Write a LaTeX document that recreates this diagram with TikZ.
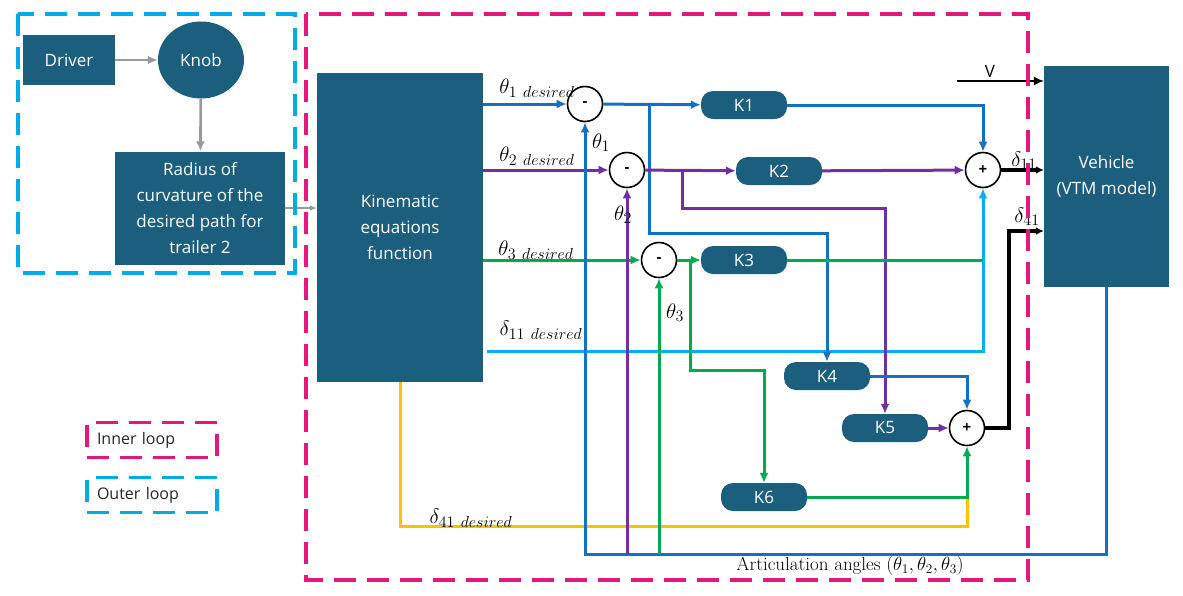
\RequirePackage{fix-cm}
\documentclass[tikz,border=0pt]{standalone}
\usepackage{fontspec}
\setsansfont{Open Sans}
\usetikzlibrary{arrows.meta,positioning,shapes.geometric}
\DeclareMathSizes{21}{21}{16}{12}
\definecolor{boxblue}{RGB}{27,94,126}
\definecolor{lnblue}{RGB}{20,112,192}
\definecolor{lnpurple}{RGB}{112,48,160}
\definecolor{lngreen}{RGB}{0,170,80}
\definecolor{lncyan}{RGB}{0,176,240}
\definecolor{lnyellow}{RGB}{255,192,0}
\definecolor{inpink}{RGB}{228,24,124}
\definecolor{outcyan}{RGB}{0,170,230}

\begin{document}
\begin{tikzpicture}[x=1pt,y=-1pt,>={Latex[length=10pt,width=9pt]},
 b/.style={fill=boxblue,text=white,align=center,inner sep=2pt,font=\sffamily\fontsize{17}{26}\selectfont},
 k/.style={b,rounded corners=12pt,minimum width=86pt,minimum height=28pt},
 s/.style={circle,draw,line width=1.6pt,fill=white,minimum size=35pt,inner sep=0pt,font=\sffamily\bfseries\fontsize{15}{15}\selectfont},
 a/.style={->,line width=3pt},
 g/.style={->,line width=2.6pt,draw=gray!80},
 lb/.style={font=\fontsize{21}{24}\selectfont},
 fr/.style={line width=3.2pt,dash pattern=on 22pt off 11pt},
 lg/.style={fr,minimum width=130pt,minimum height=35pt,text width=110pt,align=left,inner xsep=10pt,font=\sffamily\fontsize{16}{18}\selectfont,text=black!85}]
\useasboundingbox (0,0) rectangle (1183,595);
% outer loop blocks
\node[b,minimum width=92pt,minimum height=50pt] (drv) at (69,60) {Driver};
\node[b,ellipse,minimum width=86pt,minimum height=77pt] (knob) at (201,60) {Knob};
\node[b,minimum width=170pt,minimum height=113pt] (rad) at (200,208) {Radius of\\curvature of the\\desired path for\\trailer 2};
\draw[g] (drv) -- (knob);
\draw[g] (knob) -- (rad);
% main blocks
\node[b,minimum width=166pt,minimum height=309pt] (kin) at (400,227.5) {Kinematic\\equations\\function};
\node[b,minimum width=125pt,minimum height=221pt] (veh) at (1106.5,176.5) {Vehicle\\(VTM model)};
\draw[g,line width=1.5pt,>={Latex[length=7pt,width=6pt]}] (rad) -- (kin.west|-rad);
% sums
\node[s] (s1) at (585,104) {-};
\node[s] (s2) at (627,170) {-};
\node[s] (s3) at (659,260) {-};
\node[s] (p1) at (983,170) {+};
\node[s] (p2) at (967,428) {+};
% gains
\node[k] (k1) at (744,105) {K1};
\node[k] (k2) at (779,171) {K2};
\node[k] (k3) at (744,260) {K3};
\node[k] (k4) at (827,376) {K4};
\node[k] (k5) at (885,428) {K5};
\node[k] (k6) at (764,497) {K6};
% corner points
\coordinate (d11) at (487,351);
\coordinate (b1) at (649,104); \coordinate (j1) at (649,233);
\coordinate (b2) at (682,170); \coordinate (j2) at (682,208);
\coordinate (b3) at (690,260); \coordinate (j3) at (690,370);
\coordinate (j4) at (967,526);
\coordinate (j5) at (1009,231);
\coordinate (fb) at (585,554);
\coordinate (v0) at (957,81);
% desired signals
\draw[a,lnblue] (kin.east|-s1) -- (s1);
\draw[a,lnpurple] (kin.east|-s2) -- (s2);
\draw[a,lngreen] (kin.east|-s3) -- (s3);
\draw[a,lncyan] (d11) -| (p1);
\draw[line width=3pt,lnyellow] (kin.south) |- (j4) -- (p2|-k6);
% errors to gains
\draw[a,lnblue] (s1) -- (k1);
\draw[a,lnblue] (b1) -- (j1) -| (k4);
\draw[a,lnpurple] (s2) -- (k2);
\draw[a,lnpurple] (b2) -- (j2) -| (k5);
\draw[a,lngreen] (s3) -- (k3);
\draw[a,lngreen] (b3) -- (j3) -| (k6);
% gains to sums
\draw[a,lnblue] (k1) -| (p1);
\draw[a,lnpurple] (k2) -- (p1);
\draw[line width=3pt,lngreen] (k3) -- (p1|-k3);
\draw[a,lnblue] (k4) -| (p2);
\draw[a,lnpurple] (k5) -- (p2);
\draw[a,lngreen] (k6) -| (p2);
% feedback
\draw[a,lnblue] (veh.south) |- (fb) -- (s1);
\draw[a,lnpurple] (s2|-fb) -- (s2);
\draw[a,lngreen] (s3|-fb) -- (s3);
% outputs
\draw[a,line width=4.5pt,>={Latex[length=8pt,width=8pt]}] (p1) -- (veh.west|-p1);
\draw[a,line width=4pt,>={Latex[length=8pt,width=8pt]}] (p2) -| (j5) -- (veh.west|-j5);
\draw[->,line width=1.2pt] (v0) -- (veh.west|-v0);
% labels
\node[lb] (lt1) at (537,88) {$\theta_{1\ desired}$};
\node[lb] (lt2) at (537,156) {$\theta_{2\ desired}$};
\node[lb] (lt3) at (536,250) {$\theta_{3\ desired}$};
\node[lb] (ld11) at (541,330) {$\delta_{11\ desired}$};
\node[lb] (ld41) at (471,518) {$\delta_{41\ desired}$};
\node[lb] (lf1) at (601,143) {$\theta_1$};
\node[lb] (lf2) at (623,215) {$\theta_2$};
\node[lb] (lf3) at (675,313) {$\theta_3$};
\node[lb] (lo1) at (1024,161) {$\delta_{11}$};
\node[lb] (lo2) at (1027,217) {$\delta_{41}$};
\node[font=\sffamily\fontsize{17}{20}\selectfont] (lv) at (990,71) {V};
\node[font=\fontsize{19}{22}\selectfont] (lart) at (850,566) {Articulation angles $(\theta_1,\theta_2,\theta_3)$};
% loop frames
\draw[fr,outcyan] (18,14) rectangle (295,273);
\draw[fr,inpink] (306,14) rectangle (1028,580);
\node[lg,draw=inpink] (inl) at (152,440) {Inner loop};
\node[lg,draw=outcyan] (outl) at (152,495) {Outer loop};
\end{tikzpicture}
\end{document}
